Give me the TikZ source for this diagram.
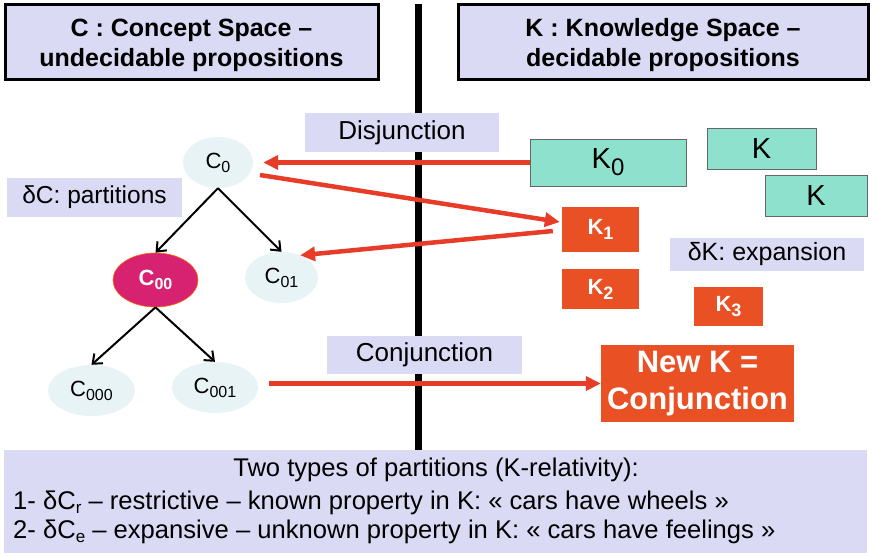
\documentclass[tikz,border=0pt]{standalone}
\usepackage{fontspec}
\setmainfont{Liberation Sans}
\usetikzlibrary{arrows.meta,calc,shapes.geometric}

\definecolor{lav}{RGB}{218,218,244}
\definecolor{pale}{RGB}{232,243,246}
\definecolor{mag}{RGB}{214,34,112}
\definecolor{kteal}{RGB}{142,225,204}
\definecolor{korange}{RGB}{233,80,36}
\definecolor{kred}{RGB}{230,60,40}

% lowered index: size, drop, text
\newcommand{\lowidx}[3]{\raisebox{-#2}{\fontsize{#1}{#1}\selectfont #3}}
% strut that pushes a header's first line down
\newcommand{\headstrut}{\rule{0pt}{26pt}}

\tikzset{
  titlebox/.style={draw=black, line width=3pt, fill=lav, inner sep=0pt,
    minimum height=75pt, align=center,
    font=\fontsize{25}{30}\selectfont\bfseries},
  tag/.style={fill=lav, inner sep=0pt, font=\fontsize{26}{30}\selectfont},
  cnode/.style={ellipse, fill=pale, inner sep=0pt, font=\fontsize{22}{24}\selectfont},
  kbox/.style={rectangle, fill=kteal, draw=black!60, line width=1pt, inner sep=0pt,
    font=\fontsize{29}{30}\selectfont},
  obox/.style={rectangle, fill=korange, text=white, inner sep=0pt,
    font=\bfseries\fontsize{22}{24}\selectfont},
  tree/.style={-{Straight Barb[length=8pt,width=13pt]}, line width=2pt},
  link/.style={draw=kred, line width=4.5pt, -{Triangle[length=15pt,width=14pt]}},
  bottomtext/.style={inner sep=0pt, font=\fontsize{25.6}{28}\selectfont}
}

\begin{document}
\begin{tikzpicture}[x=1pt,y=-1pt]
\useasboundingbox (0,0) rectangle (873,555);

% dividing line between the two spaces
\coordinate (dtop) at (418,4);
\coordinate (dbot) at (418,450);
\draw[line width=7pt] (dtop) -- (dbot);

% headers
\node[titlebox, minimum width=373pt] (hc) at (191.5,41.5)
  {\headstrut C : Concept Space --\\undecidable propositions};
\node[titlebox, minimum width=410pt] (hk) at (663,41.5)
  {\headstrut K : Knowledge Space --\\decidable propositions};

% labels
\node[tag, minimum width=194pt, minimum height=39pt] (disj) at (402,132.5) {Disjunction};
\node[tag, font=\fontsize{24.5}{30}\selectfont, minimum width=175pt, minimum height=39pt]
  (dc) at (94.5,197.5) {δC: partitions};
\node[tag, font=\fontsize{25}{30}\selectfont, minimum width=194pt, minimum height=33pt]
  (dk) at (767,254.5) {δK: expansion};
\node[tag, minimum width=195pt, minimum height=38pt] (conj) at (424.5,355) {Conjunction};

% concept tree
\node[cnode, minimum width=70pt, minimum height=51pt] (C0) at (218,162.5)
  {C\lowidx{16}{4pt}{0}};
\node[cnode, fill=mag, draw=orange!80!red, line width=0.6pt, text=white,
  font=\bfseries\fontsize{22}{24}\selectfont,
  minimum width=85pt, minimum height=54pt] (C00) at (155.5,280)
  {C\lowidx{16}{4pt}{\bfseries 00}};
\node[cnode, minimum width=73pt, minimum height=51pt] (C01) at (281.5,277.5)
  {C\lowidx{16}{4pt}{01}};
\node[cnode, minimum width=87pt, minimum height=51pt] (C000) at (91.5,390.5)
  {C\lowidx{16}{4pt}{000}};
\node[cnode, minimum width=86pt, minimum height=51pt] (C001) at (215,387.5)
  {C\lowidx{16}{4pt}{001}};

\draw[tree] (C0.south) -- (C00.north);
\draw[tree] (C0.south) -- (C01.north);
\draw[tree] (C00.south) -- (C000.north);
\draw[tree] (C00.south) -- (C001.north);

% knowledge boxes
\node[kbox, minimum width=156pt, minimum height=47pt] (K0) at (608,162.5)
  {K\lowidx{24}{7pt}{0}};
\node[kbox, minimum width=109pt, minimum height=41pt] (Ka) at (761.5,148.5) {K};
\node[kbox, minimum width=102pt, minimum height=41pt] (Kb) at (816,195.5) {K};
\node[obox, minimum width=77pt, minimum height=45pt] (K1) at (600.5,229.5)
  {K\lowidx{18}{5pt}{1}};
\node[obox, minimum width=77pt, minimum height=40pt] (K2) at (600.5,289)
  {K\lowidx{18}{5pt}{2}};
\node[obox, minimum width=69pt, minimum height=39pt] (K3) at (728.5,306.5)
  {K\lowidx{18}{5pt}{3}};
\node[obox, minimum width=193pt, minimum height=77pt, align=center,
  font=\bfseries\fontsize{31}{37}\selectfont] (NK) at (697.5,383.5)
  {New K =\\Conjunction};

% links between the spaces
\draw[link, shorten >=10pt] (K0.west) -- (C0.east);
\draw[link] ($(C0)+(42,12.5)$) -- ($(K1.west)+(-2,-7.5)$);
\draw[link] ($(K1.west)+(-9,1.5)$) -- (C01.50);
\draw[link, shorten <=11pt] (C001.east |- NK.west) -- (NK.west);

% bottom panel
\node[fill=lav, inner sep=0pt, minimum width=863pt, minimum height=103pt] (panel) at (435.5,501.5) {};
\node[bottomtext, anchor=base] (t1) at (436,476) {Two types of partitions (K-relativity):};
\node[bottomtext, anchor=base west] (t2) at (13,509)
  {1- δC\lowidx{17}{4pt}{r} -- restrictive -- known property in K: « cars have wheels »};
\node[bottomtext, anchor=base west] (t3) at (13,538)
  {2- δC\lowidx{17}{4pt}{e} -- expansive -- unknown property in K: « cars have feelings »};
\end{tikzpicture}
\end{document}
